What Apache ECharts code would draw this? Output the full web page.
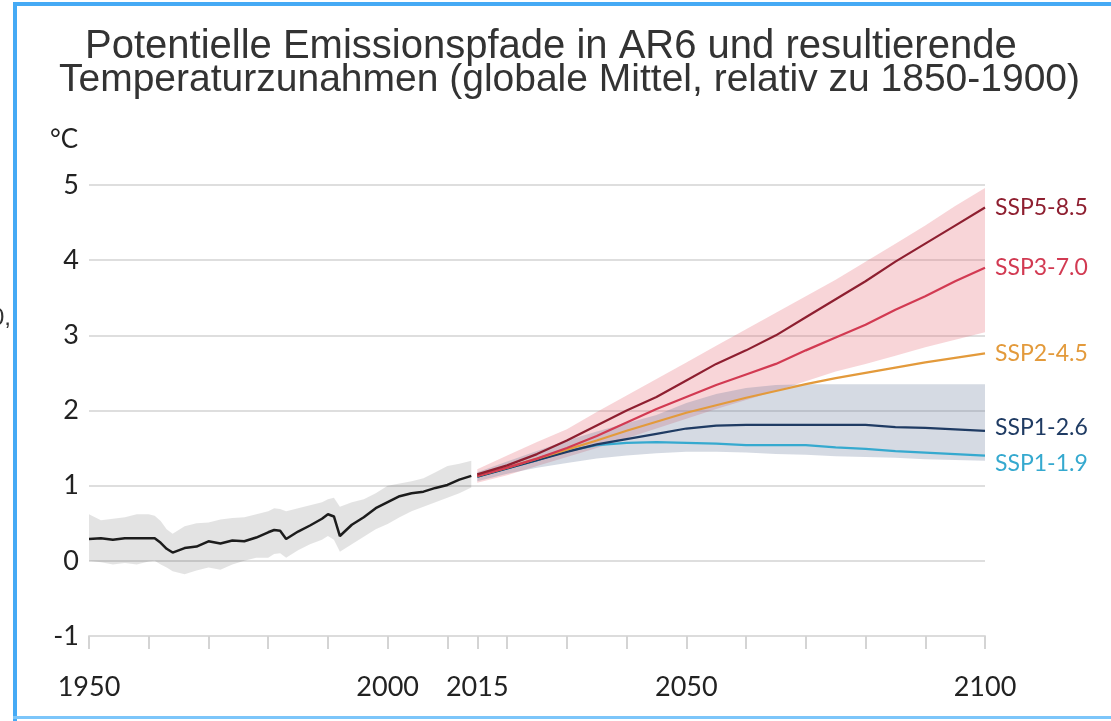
<!DOCTYPE html>
<html>
<head>
<meta charset="utf-8">
<title>Emissionspfade AR6</title>
<script src="https://cdn.jsdelivr.net/npm/echarts@6/dist/echarts.min.js"></script>
<style>
html, body { margin: 0; padding: 0; background: #fff; }
#chart { width: 1111px; height: 721px; }
</style>
</head>
<body>
<div id="chart"></div>
<script>
// historical (1950-2014), mean and grey range
const histYears = [1950, 1952, 1954, 1956, 1958, 1960, 1961, 1962, 1963, 1964, 1966, 1968, 1970, 1972, 1974, 1976, 1978, 1980, 1981, 1982, 1983, 1985, 1987, 1989, 1990, 1991, 1992, 1994, 1996, 1998, 2000, 2002, 2004, 2006, 2008, 2010, 2012, 2014]
const histMean = [0.29, 0.30, 0.28, 0.30, 0.30, 0.30, 0.30, 0.24, 0.16, 0.11, 0.17, 0.19, 0.26, 0.23, 0.27, 0.26, 0.31, 0.38, 0.41, 0.40, 0.29, 0.39, 0.47, 0.56, 0.62, 0.59, 0.33, 0.48, 0.58, 0.70, 0.78, 0.86, 0.90, 0.92, 0.97, 1.01, 1.08, 1.13]
const histHigh = [0.62, 0.54, 0.56, 0.58, 0.62, 0.62, 0.60, 0.53, 0.42, 0.36, 0.46, 0.50, 0.51, 0.55, 0.57, 0.58, 0.62, 0.66, 0.70, 0.69, 0.66, 0.70, 0.74, 0.78, 0.82, 0.84, 0.72, 0.78, 0.82, 0.90, 1.00, 1.03, 1.06, 1.10, 1.18, 1.26, 1.29, 1.33]
const histLow = [0.00, -0.02, -0.05, -0.03, -0.05, -0.01, 0.00, -0.05, -0.09, -0.14, -0.18, -0.13, -0.09, -0.12, -0.05, 0.00, 0.04, 0.04, 0.09, 0.10, 0.04, 0.14, 0.22, 0.28, 0.33, 0.28, 0.12, 0.22, 0.32, 0.42, 0.49, 0.58, 0.66, 0.72, 0.78, 0.84, 0.90, 0.975]

// scenarios 2015-2100
const sspYears = [2015, 2020, 2025, 2030, 2035, 2040, 2045, 2050, 2055, 2060, 2065, 2070, 2075, 2080, 2085, 2090, 2095, 2100]
const ssp585 = [1.15, 1.27, 1.42, 1.60, 1.80, 2.00, 2.18, 2.40, 2.62, 2.80, 3.00, 3.24, 3.48, 3.72, 3.98, 4.22, 4.46, 4.70]
const ssp370 = [1.13, 1.24, 1.36, 1.50, 1.66, 1.84, 2.02, 2.18, 2.34, 2.48, 2.62, 2.80, 2.97, 3.14, 3.34, 3.52, 3.72, 3.90]
const ssp245 = [1.13, 1.24, 1.36, 1.48, 1.60, 1.73, 1.85, 1.97, 2.07, 2.17, 2.26, 2.35, 2.43, 2.50, 2.57, 2.64, 2.70, 2.76]
const ssp126 = [1.12, 1.23, 1.34, 1.45, 1.55, 1.62, 1.69, 1.76, 1.80, 1.81, 1.81, 1.81, 1.81, 1.81, 1.78, 1.77, 1.75, 1.73]
const ssp119 = [1.12, 1.23, 1.34, 1.46, 1.54, 1.57, 1.58, 1.57, 1.56, 1.54, 1.54, 1.54, 1.51, 1.49, 1.46, 1.44, 1.42, 1.40]
// ranges (pink = high emissions, grey-blue = low emissions)
const highLow = [1.04, 1.14, 1.26, 1.38, 1.50, 1.63, 1.76, 1.89, 2.02, 2.14, 2.26, 2.39, 2.52, 2.62, 2.73, 2.84, 2.94, 3.04]
const highHigh = [1.22, 1.40, 1.58, 1.75, 1.98, 2.20, 2.42, 2.64, 2.86, 3.08, 3.30, 3.52, 3.74, 3.98, 4.22, 4.46, 4.72, 4.96]
const lowLow = [1.06, 1.16, 1.24, 1.30, 1.36, 1.40, 1.43, 1.45, 1.45, 1.44, 1.42, 1.41, 1.39, 1.38, 1.37, 1.35, 1.34, 1.33]
const lowHigh = [1.18, 1.32, 1.46, 1.60, 1.72, 1.83, 1.94, 2.10, 2.22, 2.30, 2.34, 2.35, 2.35, 2.35, 2.35, 2.35, 2.35, 2.35]

const tickYears = [1950, 1960, 1970, 1980, 1990, 2000, 2010, 2015, 2020, 2030, 2040, 2050, 2060, 2070, 2080, 2090, 2100]
const labelYears = [1950, 2000, 2015, 2050, 2100]

const pair = (xs, ys) => xs.map((x, i) => [x, ys[i]])

function band (name, xs, lo, hi, color) {
  return {
    name: name,
    type: 'custom',
    silent: true,
    z: 1,
    data: xs.map((x, i) => [x, lo[i], hi[i]]),
    encode: { x: 0, y: [1, 2] },
    renderItem: function (params, api) {
      if (params.dataIndexInside !== 0) return null
      const n = params.dataInsideLength
      const top = []
      const bot = []
      for (let i = 0; i < n; i++) {
        top.push(api.coord([api.value(0, i), api.value(2, i)]))
        bot.push(api.coord([api.value(0, i), api.value(1, i)]))
      }
      return {
        type: 'polygon',
        shape: { points: top.concat(bot.reverse()) },
        style: { fill: color }
      }
    }
  }
}

function line (name, xs, ys, color, width, labelOffset) {
  return {
    name: name,
    type: 'line',
    z: 3,
    data: pair(xs, ys),
    showSymbol: false,
    lineStyle: { color: color, width: width },
    itemStyle: { color: color },
    endLabel: {
      show: labelOffset != null,
      formatter: '{a}',
      color: color,
      fontFamily: 'Lato',
      fontSize: 23,
      distance: 10,
      offset: labelOffset || [0, 0]
    }
  }
}

const titleStyle = { fontFamily: 'Liberation Sans', fontSize: 39, fontWeight: 'normal', color: '#333' }

const chart = echarts.init(document.getElementById('chart'))
chart.setOption({
  animation: false,
  backgroundColor: '#fff',
  title: [
    {
      text: 'Potentielle Emissionspfade in AR6 und resultierende',
      left: 80,
      top: 22,
      textStyle: Object.assign({}, titleStyle, { fontSize: 40 })
    },
    {
      text: 'Temperaturzunahmen (globale Mittel, relativ zu 1850-1900)',
      left: 54,
      top: 56,
      textStyle: titleStyle
    }
  ],
  graphic: [
    { type: 'rect', shape: { x: 13, y: 2, width: 1098, height: 4 }, style: { fill: '#45aaf5' }, z: 10 },
    { type: 'rect', shape: { x: 13, y: 2, width: 4, height: 719 }, style: { fill: '#45aaf5' }, z: 10 },
    { type: 'rect', shape: { x: 13, y: 716, width: 1098, height: 3 }, style: { fill: '#7cc6fa' }, z: 10 },
    { type: 'text', x: 11, y: 318, style: { text: '0,', align: 'right', verticalAlign: 'middle', fontFamily: 'Liberation Sans', fontSize: 24, fill: '#333' } }
  ],
  grid: { left: 89, right: 126, top: 185, bottom: 85, containLabel: false },
  xAxis: {
    type: 'value',
    min: 1950,
    max: 2100,
    interval: 10,
    axisLine: { show: true, onZero: false, lineStyle: { color: '#dcdcdc', width: 2 } },
    axisTick: { show: true, customValues: tickYears, length: 13, lineStyle: { color: '#d4d4d4', width: 2 } },
    axisLabel: {
      customValues: labelYears,
      formatter: v => String(v),
      margin: 38,
      fontFamily: 'Lato',
      fontSize: 27,
      color: '#222'
    },
    splitLine: { show: false }
  },
  yAxis: {
    type: 'value',
    min: -1,
    max: 5,
    interval: 1,
    name: '°C',
    nameLocation: 'end',
    nameGap: 45,
    nameTextStyle: { fontFamily: 'Lato', fontSize: 26, color: '#222', align: 'center', verticalAlign: 'middle', padding: [0, 50, 0, 0] },
    axisLine: { show: false },
    axisTick: { show: false },
    axisLabel: { margin: 10, fontFamily: 'Lato', fontSize: 27, color: '#222' },
    splitLine: { lineStyle: { color: '#dedede', width: 2 } }
  },
  series: [
    band('Bereich historisch', histYears, histLow, histHigh, 'rgba(0,0,0,0.11)'),
    band('Bereich hohe Emissionen', sspYears, highLow, highHigh, 'rgba(230,100,110,0.27)'),
    band('Bereich niedrige Emissionen', sspYears, lowLow, lowHigh, 'rgba(100,120,150,0.27)'),
    line('Beobachtet', histYears, histMean, '#1c1c1c', 2.5, null),
    line('SSP1-1.9', sspYears, ssp119, '#35a9cf', 2.2, [0, 8]),
    line('SSP1-2.6', sspYears, ssp126, '#1f3b63', 2.2, [0, -3]),
    line('SSP2-4.5', sspYears, ssp245, '#e39a3b', 2.2, [0, 0]),
    line('SSP3-7.0', sspYears, ssp370, '#d23a52', 2.2, [0, 0]),
    line('SSP5-8.5', sspYears, ssp585, '#8e1f30', 2.2, [0, 0])
  ]
})
</script>
</body>
</html>
